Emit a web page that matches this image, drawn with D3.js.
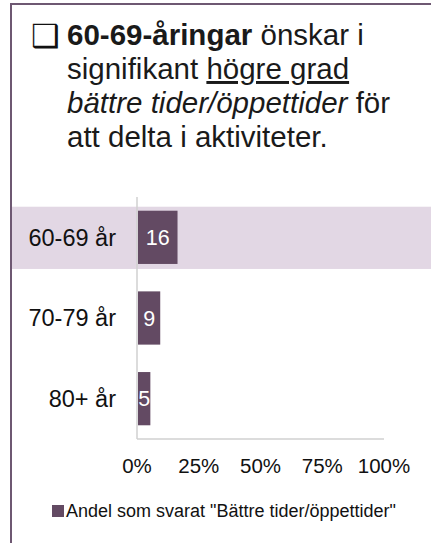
<!DOCTYPE html>
<html>
<head>
<meta charset="utf-8">
<script src="https://d3js.org/d3.v7.min.js"></script>
<style>
  body { margin: 0; background: #fff; }
  text { font-family: "Liberation Sans", Arial, sans-serif; }
</style>
</head>
<body>
<svg id="drawing_region"></svg>
<script>
// data
const categories = ["60-69 år", "70-79 år", "80+ år"];
const values = [16, 9, 5];
const highlighted = ["60-69 år"];
const xticks = [0, 25, 50, 75, 100];
const legendLabel = 'Andel som svarat "Bättre tider/öppettider"';

class BarChart {

    constructor( config ) {
        this.config = config;
        this.data = categories.map( (c, i) => ({ label: c, value: values[i] }) );
        this.init();
    }

    init() {
        let self = this;

        self.svg = d3.select( self.config.parent )
            .attr('width', self.config.width)
            .attr('height', self.config.height);

        // frame: top + left purple border
        self.svg.append('line')
            .attr('x1', 10).attr('x2', self.config.width)
            .attr('y1', 4).attr('y2', 4)
            .attr('stroke', '#6e5872').attr('stroke-width', 2);
        self.svg.append('line')
            .attr('x1', 11).attr('x2', 11)
            .attr('y1', 3).attr('y2', self.config.height)
            .attr('stroke', '#6e5872').attr('stroke-width', 2);

        // heading
        self.svg.append('text')
            .attr('x', 31).attr('y', 47)
            .attr('font-family', 'DejaVu Sans')
            .attr('font-size', 32)
            .attr('fill', '#111')
            .text('❑');

        const lines = [
            [ {t: '60-69-åringar', w: 'bold'}, {t: ' önskar i'} ],
            [ {t: 'signifikant '}, {t: 'högre grad', u: true} ],
            [ {t: 'bättre tider/öppettider', i: true}, {t: ' för'} ],
            [ {t: 'att delta i aktiviteter.'} ]
        ];
        const head = self.svg.append('text')
            .attr('font-size', 29.5)
            .attr('fill', '#1a1a1a');
        lines.forEach( (ln, li) => {
            ln.forEach( (part, pi) => {
                const ts = head.append('tspan')
                    .attr('font-weight', part.w || null)
                    .attr('font-style', part.i ? 'italic' : null)
                    .attr('text-decoration', part.u ? 'underline' : null)
                    .style('white-space', 'pre')
                    .text(part.t);
                if (pi == 0) ts.attr('x', 67).attr('y', 45 + li * 34);
            });
        });

        self.margin = self.config.margin;
        self.chart = self.svg.append('g');

        self.xscale = d3.scaleLinear()
            .domain([0, 100])
            .range([self.margin.left, self.config.width - self.margin.right]);

        self.yscale = d3.scaleBand()
            .domain(categories)
            .range([self.margin.top, self.config.height - self.margin.bottom])
            .paddingInner(0.34)
            .paddingOuter(0.17);
    }

    render() {
        let self = this;

        // highlight band for the significant group
        self.chart.selectAll('.hl')
            .data(highlighted)
            .join('rect')
            .attr('class', 'hl')
            .attr('x', 12)
            .attr('y', d => self.yscale(d) - 4)
            .attr('width', self.config.width - 12)
            .attr('height', self.yscale.bandwidth() + 9)
            .attr('fill', '#e2d7e4');

        self.chart.selectAll('.bar')
            .data(self.data)
            .join('rect')
            .attr('class', 'bar')
            .attr('x', self.xscale(0) + 1)
            .attr('y', d => self.yscale(d.label))
            .attr('width', d => self.xscale(d.value) - self.xscale(0))
            .attr('height', self.yscale.bandwidth())
            .attr('fill', '#634a63');

        self.chart.selectAll('.val')
            .data(self.data)
            .join('text')
            .attr('class', 'val')
            .attr('x', d => (self.xscale(0) + self.xscale(d.value)) / 2 + 1)
            .attr('y', d => self.yscale(d.label) + self.yscale.bandwidth() / 2)
            .attr('dy', '0.36em')
            .attr('text-anchor', 'middle')
            .attr('font-size', 21.5)
            .attr('fill', '#fff')
            .text(d => d.value);

        // axes lines
        const y0 = self.yscale.range()[0], y1 = self.yscale.range()[1];
        self.chart.append('line')
            .attr('x1', self.xscale(0)).attr('x2', self.xscale(0))
            .attr('y1', y0).attr('y2', y1)
            .attr('stroke', '#d0d0d0').attr('stroke-width', 1.5);
        self.chart.append('line')
            .attr('x1', self.xscale(0)).attr('x2', self.xscale(100))
            .attr('y1', y1).attr('y2', y1)
            .attr('stroke', '#d0d0d0').attr('stroke-width', 1.5);

        // category labels
        self.chart.selectAll('.cat')
            .data(categories)
            .join('text')
            .attr('class', 'cat')
            .attr('x', 116)
            .attr('y', d => self.yscale(d) + self.yscale.bandwidth() / 2)
            .attr('dy', '0.36em')
            .attr('text-anchor', 'end')
            .attr('font-size', 23.5)
            .attr('fill', '#111')
            .text(d => d);

        // x tick labels
        self.chart.selectAll('.tick')
            .data(xticks)
            .join('text')
            .attr('class', 'tick')
            .attr('x', d => self.xscale(d))
            .attr('y', y1 + 27)
            .attr('dy', '0.36em')
            .attr('text-anchor', 'middle')
            .attr('font-size', 20.5)
            .attr('fill', '#111')
            .text(d => d + '%');

        // legend
        self.svg.append('rect')
            .attr('x', 52).attr('y', 505)
            .attr('width', 12).attr('height', 12)
            .attr('fill', '#634a63');
        self.svg.append('text')
            .attr('x', 66).attr('y', 517)
            .attr('font-size', 18)
            .attr('fill', '#111')
            .text(legendLabel);
    }
}

const config = {
    parent: '#drawing_region',
    width: 431,
    height: 543,
    margin: {top: 197, right: 47, bottom: 104, left: 137}
};

const chart = new BarChart( config );
chart.render();
</script>
</body>
</html>
